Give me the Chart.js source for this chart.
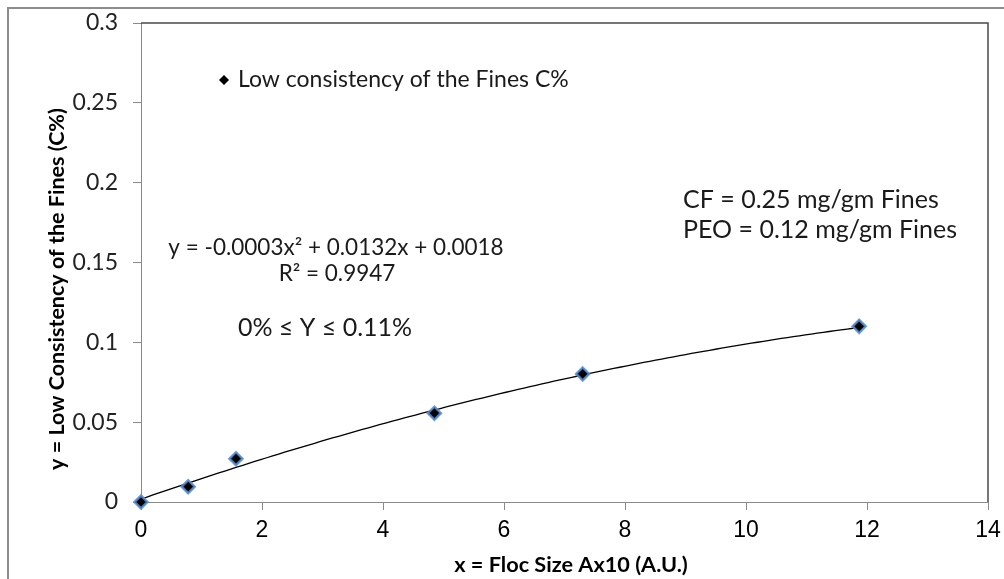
<!DOCTYPE html>
<html>
<head>
<meta charset="utf-8">
<title>Low consistency of the Fines vs Floc Size</title>
<script src="https://cdn.jsdelivr.net/npm/chart.js@4/dist/chart.umd.min.js"></script>
<style>
  html, body { margin: 0; padding: 0; background: #ffffff; }
  #wrap { width: 1004px; height: 579px; position: relative; }
</style>
</head>
<body>
<div id="wrap"><canvas id="chart" width="1004" height="579"></canvas></div>
<script>
// Measured floc size (x, A.U.) and low consistency of the fines (y, C%)
const flocSize = [0, 0.78, 1.57, 4.85, 7.3, 11.87];
const consistency = [0, 0.0096, 0.0271, 0.0556, 0.0802, 0.110];

// Axis ticks
const xTickValues = [0, 2, 4, 6, 8, 10, 12, 14];
const yTickLabels = ['0', '0.05', '0.1', '0.15', '0.2', '0.25', '0.3'];

// Polynomial trendline coefficients (a x^2 + b x + c)
const trendCoeffs = [-0.000349, 0.0132, 0.0018];
const trendSpan = [0, 11.87];

const seriesLabel = 'Low consistency of the Fines C%';
const equationText = 'y = -0.0003x\u00B2 + 0.0132x + 0.0018';
const r2Text = 'R\u00B2 = 0.9947';
const rangeText = '0% \u2264 Y \u2264 0.11%';
const noteLines = ['CF = 0.25 mg/gm Fines', 'PEO = 0.12 mg/gm Fines'];
const xTitle = 'x = Floc Size Ax10 (A.U.)';
const yTitle = 'y = Low Consistency of the Fines (C%)';

const points = flocSize.map((x, i) => ({ x: x, y: consistency[i] }));

const trendPoints = [];
for (let k = 0; k <= 120; k++) {
  const x = trendSpan[0] + (trendSpan[1] - trendSpan[0]) * k / 120;
  trendPoints.push({ x: x, y: trendCoeffs[0] * x * x + trendCoeffs[1] * x + trendCoeffs[2] });
}

const TEXT_FONT = 'Lato, "Open Sans", sans-serif';
const AXIS_GRAY = '#8a8a8a';

const decorations = {
  id: 'decorations',
  beforeDraw(chart) {
    const ctx = chart.ctx;
    ctx.save();
    ctx.fillStyle = '#ffffff';
    ctx.fillRect(0, 0, chart.width, chart.height);
    // outer frame (left and top edges)
    ctx.strokeStyle = '#8c8c8c';
    ctx.lineWidth = 2;
    ctx.beginPath();
    ctx.moveTo(8, chart.height);
    ctx.lineTo(8, 8);
    ctx.lineTo(chart.width, 8);
    ctx.stroke();
    ctx.restore();
  },
  beforeDatasetsDraw(chart) {
    const ctx = chart.ctx;
    const a = chart.chartArea;
    ctx.save();
    // plot frame: top and right edges
    ctx.strokeStyle = '#4a4a4a';
    ctx.lineWidth = 1.5;
    ctx.beginPath();
    ctx.moveTo(a.left, a.top);
    ctx.lineTo(a.right, a.top);
    ctx.lineTo(a.right, a.bottom);
    ctx.stroke();
    ctx.restore();
  },
  afterDatasetsDraw(chart) {
    const ctx = chart.ctx;
    ctx.save();
    // legend entry inside the plot
    const lx = 224, ly = 80;
    ctx.fillStyle = '#000000';
    ctx.beginPath();
    ctx.moveTo(lx, ly - 5);
    ctx.lineTo(lx + 5, ly);
    ctx.lineTo(lx, ly + 5);
    ctx.lineTo(lx - 5, ly);
    ctx.closePath();
    ctx.fill();
    ctx.fillStyle = '#1a1a1a';
    ctx.textBaseline = 'middle';
    ctx.textAlign = 'left';
    ctx.font = '23px ' + TEXT_FONT;
    ctx.fillText(seriesLabel, 238, ly);

    // trendline equation and fit quality
    ctx.textAlign = 'center';
    ctx.font = '22.5px ' + TEXT_FONT;
    ctx.fillText(equationText, 336, 248);
    ctx.fillText(r2Text, 337, 274);
    ctx.font = '25px ' + TEXT_FONT;
    ctx.fillText(rangeText, 325, 328);

    // dosage notes
    ctx.textAlign = 'left';
    ctx.font = '25px ' + TEXT_FONT;
    ctx.fillText(noteLines[0], 683, 200);
    ctx.fillText(noteLines[1], 683, 230);

    // axis titles
    ctx.fillStyle = '#000000';
    ctx.font = 'bold 21.7px ' + TEXT_FONT;
    ctx.textAlign = 'center';
    ctx.fillText(xTitle, 571, 565);
    ctx.translate(57, 289);
    ctx.rotate(-Math.PI / 2);
    ctx.font = 'bold 21.5px ' + TEXT_FONT;
    ctx.fillText(yTitle, 0, 0);
    ctx.restore();
  }
};

new Chart(document.getElementById('chart'), {
  type: 'scatter',
  data: {
    datasets: [
      {
        label: seriesLabel,
        data: points,
        order: 0,
        clip: false,
        pointStyle: 'rectRot',
        pointRadius: 6.5,
        pointHoverRadius: 6.5,
        backgroundColor: '#000000',
        borderColor: 'rgba(84, 141, 212, 0.85)',
        borderWidth: 2.5
      },
      {
        label: 'Poly. trendline',
        data: trendPoints,
        order: 1,
        showLine: true,
        borderColor: '#000000',
        borderWidth: 1.3,
        pointRadius: 0,
        pointHoverRadius: 0,
        tension: 0,
        fill: false
      }
    ]
  },
  options: {
    responsive: false,
    animation: false,
    events: [],
    layout: { padding: { left: 0, top: 23, right: 16, bottom: 0 } },
    plugins: {
      legend: { display: false },
      tooltip: { enabled: false },
      title: { display: false }
    },
    scales: {
      x: {
        type: 'linear',
        min: xTickValues[0],
        max: xTickValues[xTickValues.length - 1],
        afterBuildTicks(scale) {
          scale.ticks = xTickValues.map(v => ({ value: v }));
        },
        afterFit(scale) { scale.height = 77; },
        ticks: {
          padding: 2,
          color: '#000000',
          font: { family: '"Liberation Sans", Arial, sans-serif', size: 23, lineHeight: 1.6 },
          callback: v => String(v)
        },
        grid: { drawOnChartArea: false, drawTicks: true, tickLength: 8, color: AXIS_GRAY },
        border: { color: AXIS_GRAY, width: 1 }
      },
      y: {
        type: 'linear',
        min: 0,
        max: 0.3,
        afterBuildTicks(scale) {
          scale.ticks = yTickLabels.map(t => ({ value: parseFloat(t) }));
        },
        afterFit(scale) { scale.width = 141; },
        ticks: {
          padding: 15,
          color: '#222222',
          font: { family: TEXT_FONT, size: 23, lineHeight: 0.6 },
          callback: (v, i) => yTickLabels[i]
        },
        grid: { drawOnChartArea: false, drawTicks: true, tickLength: 8, color: AXIS_GRAY },
        border: { color: AXIS_GRAY, width: 1 }
      }
    }
  },
  plugins: [decorations]
});
</script>
</body>
</html>
